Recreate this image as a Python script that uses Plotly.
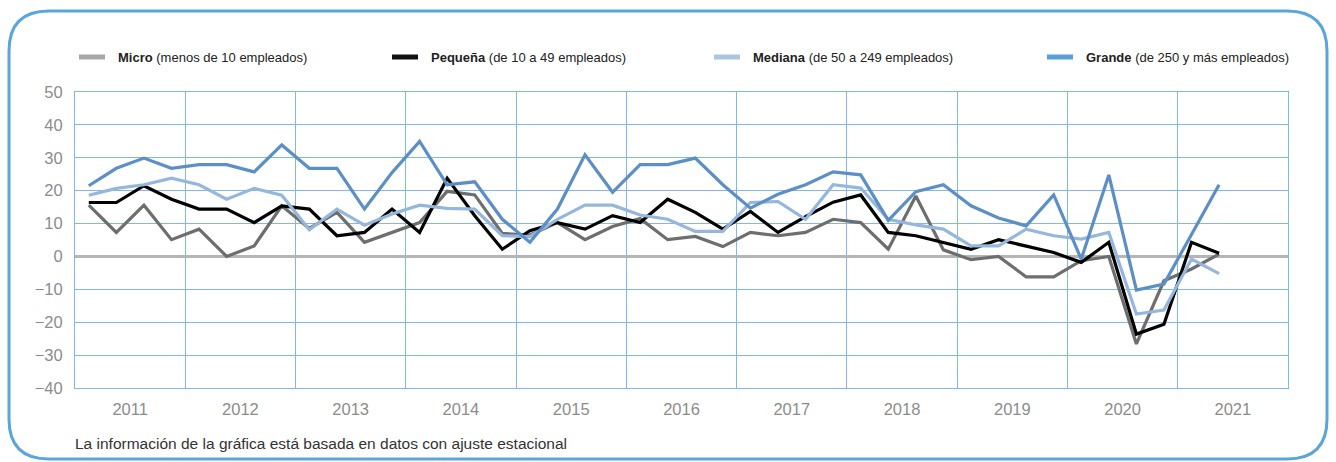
import plotly.graph_objects as go

# ---- data (2011Q1 .. 2021Q2) ----
years = list(range(2011, 2022))
quarters = [(y, q) for y in years for q in (1, 2, 3, 4)][:42]
x_vals = [y + (q - 0.5) / 4 for (y, q) in quarters]

micro = [15.6, 7.3, 15.6, 5.1, 8.3, 0.0, 3.2, 15.4, 8.5, 13.4, 4.3, 7.3,
         10.3, 19.8, 18.7, 7.0, 6.5, 10.3, 5.1, 9.1, 11.5, 5.1, 6.1, 3.0,
         7.3, 6.3, 7.3, 11.3, 10.3, 2.2, 18.4, 2.0, -1.0, 0.0, -6.2, -6.2,
         -1.3, 0.0, -26.6, -7.4, -3.8, 0.7]
pequena = [16.4, 16.4, 21.5, 17.4, 14.4, 14.4, 10.3, 15.4, 14.4, 6.3, 7.3, 14.4,
           7.3, 23.8, 12.4, 2.2, 7.8, 10.3, 8.3, 12.4, 10.3, 17.4, 13.4, 8.3,
           13.7, 7.3, 12.1, 16.5, 18.7, 7.3, 6.3, 4.3, 2.2, 5.1, 3.2, 1.2,
           -1.8, 4.3, -23.6, -20.6, 4.3, 1.0]
mediana = [18.6, 20.7, 21.8, 23.8, 21.8, 17.4, 20.7, 18.6, 8.1, 14.4, 9.5, 12.9,
           15.6, 14.6, 14.4, 6.3, 6.0, 11.3, 15.6, 15.6, 12.6, 11.3, 7.6, 7.6,
           16.4, 16.7, 11.3, 21.8, 20.8, 11.3, 9.6, 8.3, 3.2, 3.2, 8.3, 6.3,
           5.3, 7.3, -17.5, -16.3, -0.8, -5.2]
grande = [21.5, 26.8, 29.9, 26.8, 27.9, 27.9, 25.7, 33.9, 26.8, 26.8, 14.4, 25.5,
          35.0, 21.8, 22.7, 11.3, 4.3, 14.4, 30.9, 19.5, 27.9, 27.9, 29.9, 21.8,
          14.7, 18.9, 21.8, 25.7, 24.8, 11.0, 19.7, 21.8, 15.4, 11.7, 9.3, 18.7,
          -0.8, 24.8, -10.2, -8.4, 6.7, 21.8]

series_names = ["Micro", "Pequeña", "Mediana", "Grande"]
series_desc = ["(menos de 10 empleados)", "(de 10 a 49 empleados)",
               "(de 50 a 249 empleados)", "(de 250 y más empleados)"]
y_ticks = list(range(-40, 51, 10))
note = "La información de la gráfica está basada en datos con ajuste estacional"

# ---- styles ----
W, H = 1336, 462
L, R, T, B = 75, 48, 92, 74
line_colors = ["#6e6e6e", "#000000", "#95b7de", "#5b8fc6"]
swatch_colors = ["#a8a8ab", "#111111", "#aac4e2", "#5aa0d8"]
grid_color = "#7fb9e4"
frame_color = "#5aa5dc"
tick_color = "#8c8c8c"
FONT = "Liberation Sans, Arial, sans-serif"

fig = go.Figure()
for name, vals, col in zip(series_names, [micro, pequena, mediana, grande], line_colors):
    fig.add_trace(go.Scatter(x=x_vals, y=vals, mode="lines", name=name,
                             line=dict(color=col, width=3.2), showlegend=False))

pw, ph = W - L - R, H - T - B


def px(xp):
    return (xp - L) / pw


def py(yp):
    return (H - B - yp) / ph


shapes = []
annotations = []

# custom legend
sw_x = [77, 390, 712, 1045]
leg_y = 57
for i in range(4):
    shapes.append(dict(type="line", xref="paper", yref="paper",
                       x0=px(sw_x[i] + 2), x1=px(sw_x[i] + 28), y0=py(leg_y), y1=py(leg_y),
                       line=dict(color=swatch_colors[i], width=5), layer="above"))
    annotations.append(dict(xref="paper", yref="paper", x=px(sw_x[i] + 39), y=py(leg_y),
                            xanchor="left", yanchor="middle", showarrow=False,
                            text=f"<b>{series_names[i]}</b> {series_desc[i]}",
                            font=dict(family=FONT, size=13, color="#222222")))

# note
annotations.append(dict(xref="paper", yref="paper", x=px(73), y=py(443),
                        xanchor="left", yanchor="middle", showarrow=False, text=note,
                        font=dict(family=FONT, size=15.5, color="#333333")))

# rounded border
x0b, x1b, y0b, y1b, r = 9, 1327, 11, 459, 40
path = (f"M {px(x0b + r)},{py(y0b)} L {px(x1b - r)},{py(y0b)} "
        f"Q {px(x1b)},{py(y0b)} {px(x1b)},{py(y0b + r)} "
        f"L {px(x1b)},{py(y1b - r)} Q {px(x1b)},{py(y1b)} {px(x1b - r)},{py(y1b)} "
        f"L {px(x0b + r)},{py(y1b)} Q {px(x0b)},{py(y1b)} {px(x0b)},{py(y1b - r)} "
        f"L {px(x0b)},{py(y0b + r)} Q {px(x0b)},{py(y0b)} {px(x0b + r)},{py(y0b)} Z")
shapes.append(dict(type="path", xref="paper", yref="paper", path=path,
                   line=dict(color=frame_color, width=3), layer="above"))

fig.update_layout(
    width=W, height=H,
    margin=dict(l=L, r=R, t=T, b=B, pad=0),
    paper_bgcolor="white", plot_bgcolor="white",
    shapes=shapes, annotations=annotations,
    font=dict(family=FONT),
    xaxis=dict(range=[2011, 2022], tickmode="array",
               tickvals=[y + 0.5 for y in years], ticktext=[str(y) for y in years],
               showgrid=False, zeroline=False, ticks="",
               tickfont=dict(family=FONT, size=16.5, color=tick_color),
               ticklabelstandoff=6,
               minor=dict(tickmode="linear", tick0=2011, dtick=1, showgrid=True,
                          gridcolor=grid_color, gridwidth=1),
               showline=True, mirror=True, linecolor=grid_color, linewidth=1),
    yaxis=dict(range=[-40, 50], tickmode="array", tickvals=y_ticks,
               showgrid=True, gridcolor=grid_color, gridwidth=1,
               zeroline=True, zerolinecolor="#b5b5b5", zerolinewidth=3,
               ticks="", tickfont=dict(family=FONT, size=16.5, color=tick_color),
               ticklabelstandoff=8,
               showline=True, mirror=True, linecolor=grid_color, linewidth=1),
)

fig.write_html("out.html", config={"displayModeBar": False},
               post_script="document.body.style.margin='0';document.body.style.overflow='hidden';")
